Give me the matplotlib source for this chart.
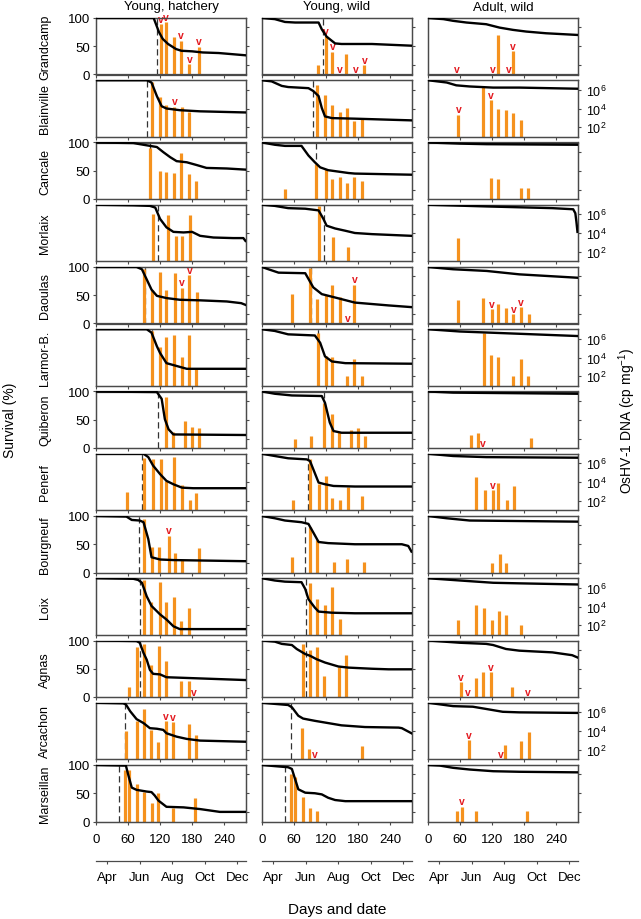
import matplotlib
matplotlib.use('Agg')
import matplotlib.pyplot as plt

plt.rcParams['font.family'] = ['Liberation Sans', 'DejaVu Sans']
plt.rcParams['mathtext.fontset'] = 'custom'
plt.rcParams['mathtext.rm'] = 'Liberation Sans'
plt.rcParams['mathtext.it'] = 'Liberation Sans:italic'

# sites (rows) and day of the first mortality (dashed line)
sites = ['Grandcamp', 'Blainville', 'Cancale', 'Morlaix', 'Daoulas', 'Larmor-B.',
         'Quiberon', 'Penerf', 'Bourgneuf', 'Loix', 'Agnas', 'Arcachon', 'Marseillan']
onset = [114, 96, 101, 116, 91, 105, 117, 86, 80, 83, 83, 55, 43]

col_titles = ['Young, hatchery', 'Young, wild', 'Adult, wild']
day_ticks = [0, 60, 120, 180, 240]
month_days = [21, 82, 143, 204, 265]
month_names = ['Apr', 'Jun', 'Aug', 'Oct', 'Dec']

# survival (%) : (day, value)
hatch_surv = [
    [(0,100),(108,100),(112,90),(118,75),(125,63),(135,54),(150,45),(160,42),(180,41),(200,39),(230,38),(280,34)],
    [(0,100),(95,100),(104,96),(114,72),(123,54),(132,50),(157,47),(195,45),(280,43)],
    [(0,100),(70,99),(95,95),(114,92),(126,83),(139,74),(151,67),(170,65),(189,60),(207,55),(245,54),(280,52)],
    [(0,100),(70,99),(101,98),(111,95),(120,75),(132,60),(145,52),(164,51),(180,52),(195,45),(220,42),(257,41),(276,41),(280,36)],
    [(0,100),(76,100),(86,96),(95,78),(104,60),(114,49),(132,45),(157,42),(195,41),(245,39),(272,36),(280,33)],
    [(0,100),(95,100),(104,94),(114,70),(120,58),(126,49),(132,40),(151,35),(170,30),(280,30)],
    [(0,100),(114,99),(123,87),(129,51),(136,33),(145,24),(280,23)],
    [(0,100),(89,100),(98,94),(107,79),(120,64),(132,52),(145,46),(161,40),(182,39),(280,39)],
    [(0,100),(57,99),(67,93),(82,92),(89,89),(98,59),(104,27),(120,23),(145,22),(280,20)],
    [(0,100),(70,99),(79,97),(86,92),(95,68),(104,51),(120,36),(132,27),(145,15),(157,10),(280,10)],
    [(0,100),(76,99),(82,96),(89,78),(95,66),(101,48),(107,41),(120,40),(132,35),(280,30)],
    [(0,100),(51,99),(56,97),(64,85),(76,71),(89,64),(101,55),(114,54),(126,52),(132,46),(151,40),(170,36),(195,33),(280,31)],
    [(0,100),(51,99),(56,99),(60,84),(67,60),(76,56),(95,53),(104,52),(110,46),(117,37),(132,26),(164,25),(195,22),(232,17),(280,17)],
]
wild_surv = [
    [(0,100),(24,98),(43,93),(62,92),(106,92),(112,80),(121,67),(137,55),(149,54),(206,54),(280,51)],
    [(0,100),(18,98),(37,90),(49,88),(87,86),(96,81),(106,72),(112,51),(118,36),(131,33),(174,32),(280,29)],
    [(0,100),(24,96),(43,94),(74,94),(87,77),(99,65),(109,56),(124,51),(162,46),(174,45),(280,43)],
    [(0,100),(24,98),(49,94),(81,93),(106,90),(115,75),(121,63),(137,58),(156,54),(174,50),(206,48),(280,45)],
    [(0,100),(12,96),(31,90),(81,89),(87,79),(96,64),(112,52),(137,46),(174,37),(237,32),(280,29)],
    [(0,100),(24,97),(49,91),(99,89),(109,76),(118,52),(131,43),(156,40),(280,39)],
    [(0,100),(24,96),(56,93),(112,92),(118,80),(127,45),(134,30),(149,27),(280,27)],
    [(0,100),(24,96),(49,92),(84,90),(90,87),(106,49),(118,46),(134,43),(174,42),(280,42)],
    [(0,100),(24,96),(43,92),(74,89),(87,86),(96,71),(106,54),(124,52),(174,50),(262,50),(274,47),(280,37)],
    [(0,100),(24,96),(43,94),(74,93),(81,81),(87,63),(99,48),(106,41),(131,39),(174,38),(280,38)],
    [(0,100),(24,98),(37,94),(56,92),(65,85),(81,76),(90,73),(102,67),(118,61),(143,54),(162,52),(206,50),(237,49),(280,49)],
    [(0,100),(24,98),(49,96),(56,92),(68,77),(77,72),(99,68),(124,64),(149,60),(193,57),(256,56),(262,55),(280,46)],
    [(0,100),(24,98),(49,96),(56,93),(62,75),(68,57),(81,51),(99,50),(112,48),(124,42),(137,38),(156,36),(280,36)],
]
adult_surv = [
    [(0,100),(29,98),(47,95),(72,92),(109,89),(134,83),(159,79),(184,76),(221,73),(280,70)],
    [(0,100),(35,96),(53,91),(78,89),(122,87),(171,87),(280,85)],
    [(0,100),(60,98),(110,97),(280,96)],
    [(0,100),(110,97),(233,94),(272,92),(276,85),(278,70),(280,52)],
    [(0,100),(47,96),(110,93),(171,87),(280,81)],
    [(0,100),(60,96),(171,92),(280,88)],
    [(0,100),(47,98),(280,96)],
    [(0,100),(47,96),(109,94),(280,93)],
    [(0,100),(35,96),(78,92),(280,90)],
    [(0,100),(60,96),(122,92),(171,91),(280,89)],
    [(0,100),(60,96),(109,94),(122,92),(146,85),(171,82),(233,79),(270,74),(280,70)],
    [(0,100),(47,94),(84,93),(109,89),(140,84),(171,83),(280,82)],
    [(0,100),(22,99),(47,95),(78,92),(122,89),(171,88),(280,87)],
]

# OsHV-1 DNA : (day, log10 cp/mg)
hatch_dna = [
    [(121,6.35),(131,6.55),(146,5.0),(159,4.57),(175,2.07),(193,3.93)],
    [(104,6.86),(119,5.25),(132,4.32),(147,4.18),(161,4.14),(175,3.68)],
    [(102,6.46),(120,3.93),(132,3.86),(146,3.75),(159,5.93),(175,3.68),(187,2.96)],
    [(106,6.04),(134,5.86),(149,3.64),(162,3.7),(176,5.93)],
    [(90,6.82),(104,4.6),(120,6.5),(132,4.6),(148,6.4),(161,4.8),(175,6.1),(189,4.3)],
    [(104,6.82),(119,5.14),(132,6.18),(147,6.36),(161,4.04),(175,6.36),(188,2.82)],
    [(132,6.39),(145,2.75),(166,3.89),(180,3.18),(193,3.11)],
    [(59,2.96),(89,6.54),(106,6.39),(121,6.39),(132,4.14),(147,6.64),(162,3.68),(176,2.07),(188,2.79)],
    [(89,6.68),(104,3.75),(118,3.75),(136,4.89),(148,3.11),(161,2.32),(193,3.64)],
    [(89,6.82),(103,4.46),(119,6.61),(132,4.46),(146,5.04),(159,2.43),(174,3.86)],
    [(62,2.1),(76,6.32),(89,6.68),(103,4.43),(118,6.46),(132,4.79),(159,2.71),(174,2.71)],
    [(56,4.04),(76,5.04),(89,6.36),(103,4.14),(117,2.79),(131,5.04),(144,4.93),(174,4.79),(188,3.54)],
    [(54,6.43),(62,6.5),(76,5.0),(90,4.1),(104,2.96),(117,4.0),(145,2.43),(186,3.46)],
]
wild_dna = [
    [(104,2.0),(119,5.04),(132,3.43),(158,3.14),(192,2.0)],
    [(103,6.5),(118,5.43),(132,4.32),(146,3.6),(159,4.07),(173,2.71),(187,2.96)],
    [(43,2.07),(102,4.75),(119,4.14),(132,3.14),(146,3.32),(159,2.71),(173,3.32),(187,2.86)],
    [(106,6.86),(133,3.54),(162,2.54)],
    [(56,4.18),(89,6.86),(103,3.57),(119,4.0),(132,5.1),(147,3.82),(173,5.1)],
    [(104,6.57),(119,4.14),(132,4.04),(160,2.07),(173,3.79),(187,2.07)],
    [(62,2.0),(92,2.32),(117,5.75),(131,4.57),(144,2.68),(166,2.96),(179,3.14),(193,2.32)],
    [(59,2.04),(89,6.43),(106,3.82),(120,4.64),(132,2.32),(147,2.04),(161,3.46),(187,2.5)],
    [(56,2.64),(89,5.79),(103,4.43),(134,2.11),(160,2.39),(191,2.11)],
    [(89,6.46),(103,4.79),(118,4.18),(132,6.04),(146,2.64)],
    [(76,6.61),(89,5.96),(103,6.36),(117,3.21),(144,4.21),(158,5.43)],
    [(75,4.36),(88,2.04),(187,2.39)],
    [(54,6.04),(62,5.68),(76,3.64),(89,2.39),(103,2.11)],
]
adult_dna = [
    [(132,5.2),(159,3.5)],
    [(57,3.36),(103,6.39),(118,4.86),(132,4.0),(146,3.8),(160,3.54),(174,2.82)],
    [(118,3.25),(132,3.14),(174,2.14),(188,2.14)],
    [(57,3.46)],
    [(57,3.46),(103,3.71),(119,2.54),(132,3.07),(147,2.64),(160,2.0),(174,2.71),(189,2.0)],
    [(104,6.64),(118,4.25),(132,4.07),(160,2.07),(174,3.79),(187,2.07)],
    [(80,2.36),(93,2.57),(193,2.04)],
    [(89,4.5),(106,3.14),(121,3.14),(132,3.86),(148,2.07),(161,3.61)],
    [(119,2.04),(135,3.0),(147,2.04)],
    [(57,2.61),(89,4.14),(104,3.86),(119,2.61),(133,3.5),(147,3.07),(174,2.07)],
    [(62,2.57),(89,3.07),(103,3.61),(118,3.61),(158,2.04)],
    [(76,3.0),(145,2.54),(174,2.89),(189,3.86)],
    [(55,2.07),(63,2.57),(90,2.07),(185,2.07)],
]

# days carrying a red "v" mark
hatch_v = [[121,131,159,175,193],[147],[],[],[161,175],[],[],[],[136],[],[184],[131,144],[]]
wild_v = [[119,132,146,176,192],[],[],[],[161,173],[],[],[],[],[],[],[99],[]]
adult_v = [[54,122,152,159],[57,118],[],[],[119,160,174],[],[102],[121],[],[],[62,75,118,187],[76,136],[63]]

columns = [(hatch_surv, hatch_dna, hatch_v),
           (wild_surv, wild_dna, wild_v),
           (adult_surv, adult_dna, adult_v)]

W, H = 641, 920
fig = plt.figure(figsize=(W / 100, H / 100), dpi=100)

col_left = [96, 262, 428]
col_w = 150
row_top = 19
row_step = 62.25
row_h = 56.5
orange = '#F5921E'
spine_col = '#4a4a4a'


def px_axes(x, y, w, h):
    return fig.add_axes([x / W, 1 - (y + h) / H, w / W, h / H])


for c, (surv, dna, vmarks) in enumerate(columns):
    for i in range(len(sites)):
        ax = px_axes(col_left[c], row_top + i * row_step, col_w, row_h)
        ax.set_yscale('log')
        ax.set_xlim(0, 281)
        ax.set_ylim(10, 1e7)

        # bars of viral DNA
        d = [p[0] for p in dna[i]]
        v = [10 ** p[1] for p in dna[i]]
        if c < 2:
            ax.axvline(onset[i], color='#333333', lw=0.9, ls=(0, (5, 3)), zorder=1)
        ax.vlines(d, 10, v, colors=orange, lw=2.3, zorder=2)
        for day in vmarks[i]:
            y = 10
            for dd, vv in zip(d, v):
                if abs(dd - day) <= 2:
                    y = vv
            ax.annotate('v', (day, y), xytext=(0, 0.3), textcoords='offset points',
                        ha='center', va='bottom', color='#E3191F', fontsize=7.5,
                        fontweight='bold', zorder=4, annotation_clip=False)

        ax2 = ax.twinx()
        ax2.set_ylim(0, 100)
        ax2.plot([p[0] for p in surv[i]], [p[1] for p in surv[i]], color='black', lw=1.7, zorder=3)

        ax.yaxis.tick_right()
        ax.set_yticks([1e2, 1e4, 1e6])
        ax.yaxis.set_minor_locator(matplotlib.ticker.NullLocator())
        if c == 2 and i % 2 == 1:
            ax.set_yticklabels(['$10^2$', '$10^4$', '$10^6$'])
        else:
            ax.set_yticklabels([])
        ax.tick_params(axis='y', which='both', direction='out', length=2.5, width=0.8,
                       color=spine_col, labelsize=9, pad=3)

        ax2.yaxis.tick_left()
        if c == 0 and i % 2 == 0:
            ax2.set_yticks([0, 50, 100])
            ax2.set_yticklabels(['0', '50', '100'])
            ax2.tick_params(axis='y', direction='out', length=2.5, width=0.8,
                            color=spine_col, labelsize=9.5, pad=2)
        else:
            ax2.set_yticks([])

        ax.set_xticks(day_ticks)
        ax.tick_params(axis='x', direction='out', length=2.5, width=0.8, color=spine_col,
                       labelsize=9.5, pad=5.5)
        if i < len(sites) - 1:
            ax.set_xticklabels([])

        for a in (ax, ax2):
            for s in a.spines.values():
                s.set_color(spine_col)
                s.set_linewidth(0.9)

        if c == 0:
            fig.text(45 / W, 1 - (row_top + i * row_step + row_h / 2) / H, sites[i],
                     rotation=90, ha='center', va='center', fontsize=9)

    # date axis below the day axis
    axd = px_axes(col_left[c], 861, col_w, 1)
    axd.patch.set_visible(False)
    for s in ('top', 'left', 'right'):
        axd.spines[s].set_visible(False)
    axd.spines['bottom'].set_color(spine_col)
    axd.spines['bottom'].set_linewidth(0.9)
    axd.set_xlim(0, 281)
    axd.set_yticks([])
    axd.set_xticks(month_days)
    axd.set_xticklabels(month_names)
    axd.tick_params(axis='x', direction='out', length=2.5, width=0.8, color=spine_col,
                    labelsize=9.5, pad=5)

    fig.text((col_left[c] + col_w / 2) / W, 1 - 7 / H, col_titles[c],
             ha='center', va='center', fontsize=9.5)

fig.text(10 / W, 1 - 420 / H, 'Survival (%)', rotation=90, ha='center', va='center', fontsize=10)
fig.text(627 / W, 1 - 421 / H, 'OsHV-1 DNA (cp mg$^{-1}$)', rotation=90,
         ha='center', va='center', fontsize=10)
fig.text(337 / W, 1 - 910 / H, 'Days and date', ha='center', va='center', fontsize=11)

fig.savefig('out.png', dpi=100)
